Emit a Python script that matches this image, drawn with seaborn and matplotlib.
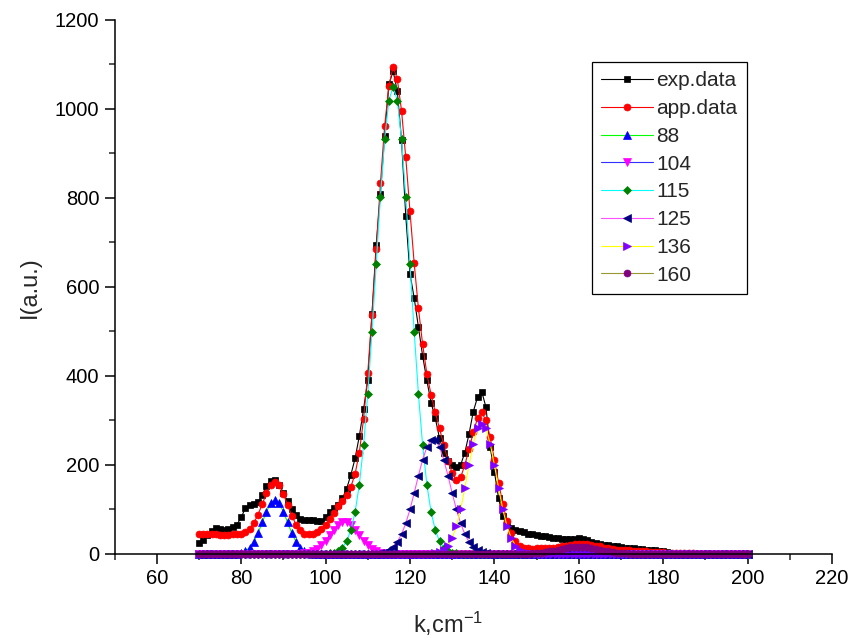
import numpy as np
import pandas as pd
import matplotlib
matplotlib.use("Agg")
import matplotlib.pyplot as plt
import seaborn as sns

# wavenumber grid, 1 cm-1 step
k = np.arange(70, 201)

# measured spectrum (70..181)
exp_data = [25, 32, 42, 52, 58, 56, 55, 57, 60, 66,
            82, 103, 109, 112, 116, 133, 152, 163, 166, 156,
            138, 118, 100, 88, 79, 76, 76, 77, 75, 74,
            82, 95, 103, 110, 125, 147, 178, 215, 265, 325,
            390, 540, 695, 810, 940, 1055, 1085, 1040, 930, 760,
            630, 575, 510, 445, 390, 340, 305, 260, 228, 210,
            200, 195, 200, 228, 270, 320, 352, 365, 330, 240,
            185, 125, 85, 66, 58, 54, 51, 49, 46, 44,
            42, 40, 40, 39, 37, 36, 34, 34, 33, 34,
            35, 33, 31, 27, 25, 23, 21, 20, 18, 17,
            15, 14, 14, 13, 12, 11, 10, 9, 8, 7,
            6, 5]

# fitted envelope (70..200)
app_data = [45, 45, 44.5, 44, 44, 43.5, 43.5, 43.5, 43.8, 44,
            45.7, 49, 56.7, 69.4, 88.7, 112, 136, 155, 161, 154,
            135, 110, 86, 66, 53, 46, 44, 45, 49, 56,
            66, 79, 93, 107, 120, 133, 151, 180, 228, 303,
            407, 538, 685, 833, 962, 1051, 1095, 1067, 996, 891,
            770, 653, 552, 471, 405, 358, 318, 282, 245, 210,
            182, 166, 172, 200, 236, 273, 305, 318, 300, 262,
            212, 160, 112, 74, 47, 29, 19, 14.5, 12.5, 12,
            12.5, 12.5, 13, 13.5, 14.5, 16, 17.5, 19, 21, 22.5,
            23.5, 23.5, 22.5, 21, 19, 17, 14.5, 12.5, 11, 10,
            9.3, 8.6, 8, 7.5, 7, 6.3, 5.7, 5, 4.5, 4,
            3.5, 3, 2.6, 2.2, 1.9, 1.6, 1.3, 1.1, 0.9, 0.8,
            0.7, 0.6, 0.5, 0.5, 0.4, 0.4, 0.3, 0.3, 0.3, 0.2,
            0.2]

# single peaks: first wavenumber and the non-zero part
p88_start = 78
p88 = [0.3, 1.0, 2.7, 6.6, 14.2, 27.4, 46.7, 70.9, 95.4, 114, 121,
       114, 95.4, 70.9, 46.7, 27.4, 14.2, 6.6, 2.7, 1.0, 0.3]
p104_start = 94
p104 = [0.6, 1.5, 3.2, 6.3, 11.6, 19.5, 30, 42.4, 55, 65.3, 71.2,
        71.2, 65.3, 55, 42.4, 30, 19.5, 11.6, 6.3, 3.2, 1.5, 0.6]
p115_start = 100
p115 = [0.5, 1.3, 3.1, 6.9, 14.5, 28.7, 53.6, 94.4, 156, 244, 360,
        499, 652, 803, 932, 1019, 1050, 1019, 932, 803, 652, 499,
        360, 244, 156, 94.4, 53.6, 28.7, 14.5, 6.9, 3.1, 1.3, 0.5]
p125_start = 112
p125 = [0.8, 2, 4.1, 8.2, 15.4, 27, 44.5, 68.9, 100, 137, 176, 212,
        240, 256, 256, 240, 212, 176, 137, 100, 69, 44.5, 27, 15.4,
        8.2, 4.1, 2, 0.8]
p136_start = 125
p136 = [0.6, 1.6, 3.9, 8.9, 18.5, 35.5, 62, 100, 148, 200, 248, 283,
        292, 283, 248, 200, 148, 100, 62, 35.5, 18.5, 8.9, 3.9, 1.6, 0.6]
p160_start = 146
p160 = [0.3, 0.5, 0.9, 1.4, 2.2, 3.2, 4.5, 6.0, 7.8, 9.7, 11.6, 13.4,
        14.8, 15.7, 16, 15.7, 14.8, 13.4, 11.6, 9.7, 7.8, 6.0, 4.5,
        3.2, 2.2, 1.4, 0.9, 0.5, 0.3]


def place(start, vals):
    y = np.zeros(len(k))
    y[start - 70:start - 70 + len(vals)] = vals
    return y


sns.set_style("ticks")
plt.rcParams['font.family'] = ['Liberation Sans', 'DejaVu Sans']
plt.rcParams['mathtext.fontset'] = 'custom'
plt.rcParams['mathtext.rm'] = 'Liberation Sans'
plt.rcParams['mathtext.default'] = 'regular'

# label, x, y, line colour, marker, marker colour, marker size
series = [
    ('exp.data', k[:len(exp_data)], exp_data, 'black', 's', 'black', 4),
    ('app.data', k, app_data, 'red', 'o', 'red', 5),
    ('88', k, place(p88_start, p88), '#00ff00', '^', 'blue', 5.5),
    ('104', k, place(p104_start, p104), '#3030ff', 'v', '#ff00ff', 5.5),
    ('115', k, place(p115_start, p115), 'cyan', 'D', '#008000', 4.2),
    ('125', k, place(p125_start, p125), '#ff50ff', '<', '#000080', 5.5),
    ('136', k, place(p136_start, p136), '#ffff00', '>', '#8000ff', 5.5),
    ('160', k, place(p160_start, p160), '#999933', 'o', '#800080', 5),
]

fig = plt.figure(figsize=(8.51, 6.38), dpi=100)
ax = fig.add_axes([0.1346, 0.1317, 0.8431, 0.837])

for label, x, y, lc, mk, mc, ms in series:
    sns.lineplot(x=x, y=y, ax=ax, label=label, color=lc, linewidth=0.8,
                 marker=mk, markersize=ms, markerfacecolor=mc,
                 markeredgecolor=mc, markeredgewidth=0.5, clip_on=False)

ax.set_xlim(50, 220)
ax.set_ylim(0, 1200)
ax.set_xticks(range(60, 221, 20))
ax.set_xticks(range(50, 221, 10), minor=True)
ax.set_yticks(range(0, 1201, 200))
ax.set_yticks(range(0, 1201, 100), minor=True)
ax.tick_params(which='major', direction='out', length=7.5, width=1.1,
               labelsize=14.5, colors='black')
ax.tick_params(which='minor', direction='out', length=4, width=1.1)
for side in ['top', 'right']:
    ax.spines[side].set_visible(False)
for side in ['left', 'bottom']:
    ax.spines[side].set_linewidth(1.1)
    ax.spines[side].set_color('black')

ax.set_xlabel('k,cm$^{-1}$', fontsize=17, labelpad=12)
ax.xaxis.set_label_coords(0.465, -0.105)
ax.set_ylabel('I(a.u.)', fontsize=17, labelpad=10)

leg = ax.legend(loc='upper left', bbox_to_anchor=(0.6655, 0.9213),
                borderaxespad=0, fontsize=15, handlelength=2.5,
                handletextpad=0.15, labelspacing=0.42, borderpad=0.45,
                fancybox=False, edgecolor='black', framealpha=1)
leg.get_frame().set_linewidth(0.9)

plt.savefig('out.png', dpi=100)
